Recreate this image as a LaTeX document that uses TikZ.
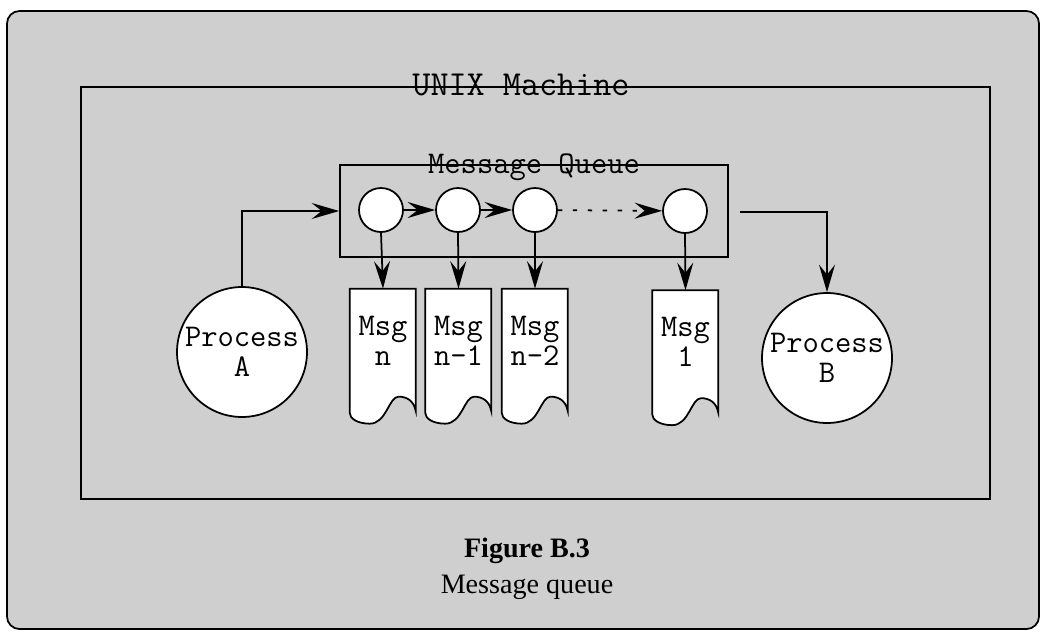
\documentclass[tikz,border=0pt]{standalone}
\usepackage{fontspec}
\setmainfont{Liberation Serif}
\usetikzlibrary{arrows.meta,calc}
\newcommand{\msgoutline}[1]{%
  \begin{scope}[shift={(#1.north west)}]
    \draw[line, fill=white] (0,0) -- (66,0) -- (66,122)
      .. controls (64,112) and (57,108) .. (49,108)
      .. controls (39,108) and (37,135) .. (20,135)
      .. controls (8,135) and (0,130) .. (0,124) -- cycle;
  \end{scope}}
\begin{document}
\begin{tikzpicture}[x=0.02cm,y=-0.02cm,
  every node/.style={inner sep=0pt},
  mono/.style={font=\ttfamily\fontsize{18}{17}\selectfont},
  title/.style={font=\ttfamily\fontsize{20}{20}\selectfont, anchor=base},
  line/.style={line width=1pt},
  arr/.style={line, -{Stealth[length=0.55cm,width=0.32cm,inset=0.2cm]}},
  slot/.style={circle, draw, line width=1pt, fill=white, minimum size=0.88cm},
  proc/.style={circle, draw, line width=1pt, fill=white, minimum size=2.6cm, align=center, mono},
  msgarea/.style={rectangle, minimum width=1.32cm, minimum height=2.7cm},
  msgtext/.style={mono, align=center},
  captext/.style={font=\fontsize{16}{19}\selectfont, anchor=base},
]
\useasboundingbox (0,0) rectangle (1043,636);
\fill[white] (0,0) rectangle (1043,636);
\draw[line width=1pt, fill=black!19, rounded corners=0.25cm] (7,11) rectangle (1039,629);

% UNIX machine box
\draw[line width=1.2pt] (81,87) rectangle (990,499);
\node[title] (unix) at (521,95) {UNIX Machine};

% Message queue box
\node[draw, line, minimum width=7.76cm, minimum height=1.84cm] (mq) at (534,211) {};
\node[title, font=\ttfamily\fontsize{18}{18}\selectfont] (mqt) at (534,173) {Message Queue};

% slots
\node[slot] (s1) at (381,210) {};
\node[slot] (s2) at (458,210) {};
\node[slot] (s3) at (535,210) {};
\node[slot] (s4) at (685,211) {};

% messages
\node[msgarea] (m1) at (383,356.5) {};
\node[msgarea] (m2) at (458.5,356.5) {};
\node[msgarea] (m3) at (535,356.5) {};
\node[msgarea] (m4) at (685.5,358) {};
\msgoutline{m1}
\msgoutline{m2}
\msgoutline{m3}
\msgoutline{m4}
\node[msgtext] (t1) at ($(m1.north)+(0,52)$) {Msg\\n};
\node[msgtext] (t2) at ($(m2.north)+(0,52)$) {Msg\\n-1};
\node[msgtext] (t3) at ($(m3.north)+(0,52)$) {Msg\\n-2};
\node[msgtext] (t4) at ($(m4.north)+(0,52)$) {Msg\\1};

% processes
\node[proc] (pa) at (242,352) {Process\\A};
\node[proc] (pb) at (827,358) {Process\\B};

% connectors
\draw[arr] (s1) -- (s2);
\draw[arr] (s2) -- (s3);
\draw[arr, dash pattern=on 2.5pt off 6pt] (s3) -- (s4);
\draw[arr] (s1.south) -- (m1.north);
\draw[arr] (s2.south) -- (m2.north);
\draw[arr] (s3.south) -- (m3.north);
\draw[arr] (s4.south) -- (m4.north);
\draw[arr] (pa.north) |- (mq.west);
\coordinate (bs) at (740,212);
\draw[arr] (bs) -| (pb.north);

% caption
\node[captext, font=\bfseries\fontsize{16}{19}\selectfont] (fig) at (527,557) {Figure B.3};
\node[captext] (capt) at (527,593) {Message queue};
\end{tikzpicture}
\end{document}
